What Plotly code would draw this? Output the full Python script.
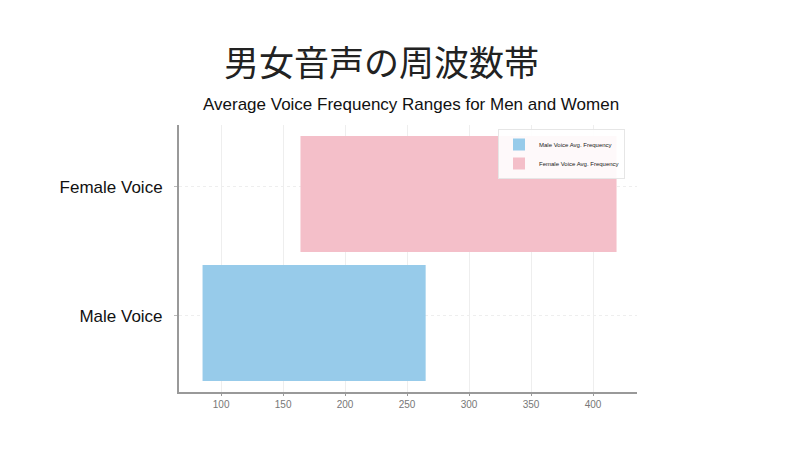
import plotly.graph_objects as go

categories = ["Male Voice", "Female Voice"]
range_start = [85, 164]
range_end = [265, 419]
series_names = ["Male Voice Avg. Frequency", "Female Voice Avg. Frequency"]
colors = ["#97CBEA", "#F4BFC9"]
x_ticks = [100, 150, 200, 250, 300, 350, 400]

# browser page offset compensation
OX, OY = 7, 8
L, T, PW, PH = 178 - OX, 125 - OY, 458, 267

fig = go.Figure()
for i, cat in enumerate(categories):
    fig.add_trace(go.Bar(
        y=[i], x=[range_end[i] - range_start[i]], base=[range_start[i]],
        orientation="h", name=series_names[i],
        marker=dict(color=colors[i], line=dict(width=0)),
        width=0.9, offset=-0.505,
    ))


def px2paper(px, py):
    return (px - OX - L) / PW, 1 - (py - OY - T) / PH


tx, ty = px2paper(380, 60)
sx, sy = px2paper(410, 104)
lx, ly = px2paper(497, 129)

fig.update_layout(
    width=800, height=452,
    margin=dict(l=L, r=800 - L - PW, t=T, b=452 - T - PH),
    paper_bgcolor="white", plot_bgcolor="white",
    barmode="overlay",
    font=dict(family="Liberation Sans, Arial, sans-serif", color="#111"),
    showlegend=True,
    legend=dict(x=lx, y=ly, xanchor="left", yanchor="top",
                font=dict(size=6, color="#222"),
                bgcolor="rgba(255,255,255,0.9)", bordercolor="#e6e6e6", borderwidth=1,
                tracegroupgap=0, itemwidth=30),
    annotations=[
        dict(text="男女音声の周波数帯", x=tx, y=ty, xref="paper", yref="paper",
             xanchor="center", yanchor="middle", showarrow=False,
             font=dict(size=35, family="Noto Sans CJK JP", color="#222")),
        dict(text="Average Voice Frequency Ranges for Men and Women", x=sx, y=sy,
             xref="paper", yref="paper", xanchor="center", yanchor="middle",
             showarrow=False, font=dict(size=17, color="#111")),
    ],
)
fig.update_xaxes(
    range=[66, 435.5], tickvals=x_ticks,
    tickfont=dict(size=10, color="#777"),
    showgrid=True, gridcolor="#eeeeee", gridwidth=1,
    showline=True, linecolor="#999", linewidth=2,
    ticks="outside", ticklen=2, tickcolor="#999", zeroline=False,
    ticklabelstandoff=0,
)
fig.update_yaxes(
    range=[-0.59, 1.48], tickvals=[0, 1], ticktext=categories,
    tickfont=dict(size=17, color="#111"),
    showgrid=True, gridcolor="#eeeeee", gridwidth=1, griddash="dot",
    showline=True, linecolor="#999", linewidth=2,
    ticks="outside", ticklen=3, tickcolor="#bbb", zeroline=False,
    ticklabelstandoff=8,
)

fig.write_html("out.html")
